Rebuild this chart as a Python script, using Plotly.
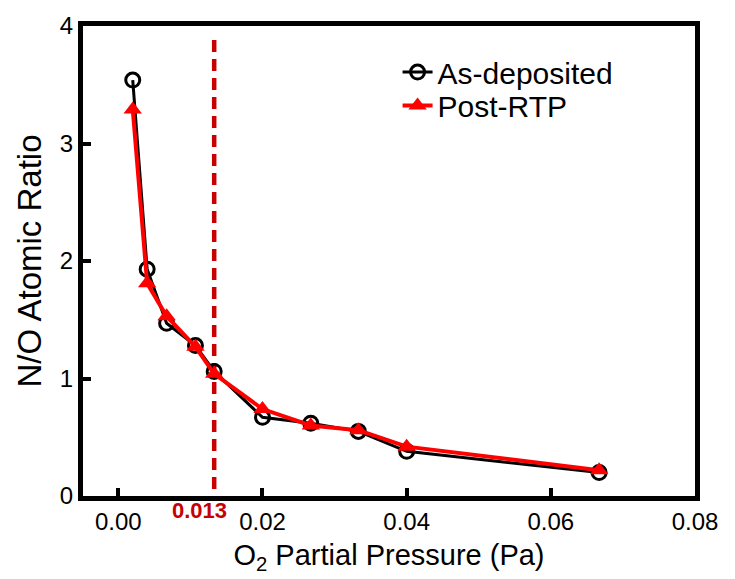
import plotly.graph_objects as go

# O2 partial pressure (Pa) and N/O atomic ratio from XPS
pressure = [0.002, 0.004, 0.0067, 0.0107, 0.0133, 0.02, 0.0267, 0.0333, 0.04, 0.0667]
as_deposited = [3.54, 1.93, 1.47, 1.28, 1.06, 0.67, 0.62, 0.55, 0.38, 0.20]
post_rtp = [3.29, 1.81, 1.53, 1.27, 1.04, 0.74, 0.60, 0.56, 0.42, 0.22]

x_ticks = [0.0, 0.02, 0.04, 0.06, 0.08]
x_tick_text = ["0.00", "0.02", "0.04", "0.06", "0.08"]
y_ticks = [0, 1, 2, 3, 4]

threshold = 0.0133
threshold_label = "0.013"
threshold_top = 3.88

FONT = "Liberation Sans, Arial, Helvetica, sans-serif"
DARK_RED = "#C80000"

fig = go.Figure()

fig.add_trace(go.Scatter(
    x=pressure, y=as_deposited, name="As-deposited",
    mode="lines+markers", legend="legend",
    line=dict(color="black", width=3),
    marker=dict(symbol="circle-open", size=14, color="black",
                line=dict(color="black", width=3)),
))
fig.add_trace(go.Scatter(
    x=pressure, y=post_rtp, name="Post-RTP",
    mode="lines+markers", legend="legend2",
    line=dict(color="#FF0000", width=4),
    marker=dict(symbol="triangle-up", size=16, color="#FF0000",
                line=dict(width=0)),
))

# vertical marker at the threshold pressure
fig.add_shape(type="line", xref="x", yref="y",
              x0=threshold, x1=threshold, y0=threshold_top, y1=0,
              line=dict(color=DARK_RED, width=4.5, dash="12px,7px"),
              layer="below")
fig.add_annotation(x=threshold - 0.0021, y=-0.031, xref="x", yref="paper",
                   text=f"<b>{threshold_label}</b>", showarrow=False,
                   font=dict(family=FONT, size=22, color=DARK_RED),
                   xanchor="center", yanchor="middle")

axis_common = dict(
    showgrid=False, zeroline=False,
    showline=True, linecolor="black", linewidth=5, mirror=True,
    ticks="inside", ticklen=8, tickwidth=4, tickcolor="black",
    tickfont=dict(family=FONT, size=24, color="black"),
)

fig.update_xaxes(
    range=[-0.0049, 0.08], tickvals=x_ticks, ticktext=x_tick_text,
    title=dict(text="O<sub>2</sub> Partial Pressure (Pa)",
               font=dict(family=FONT, size=29, color="black"), standoff=12),
    **axis_common,
)
fig.update_yaxes(
    range=[0, 4], tickvals=y_ticks,
    title=dict(text="N/O Atomic Ratio",
               font=dict(family=FONT, size=33, color="black"), standoff=10),
    **axis_common,
)

legend_common = dict(xanchor="left", yanchor="middle",
                     bgcolor="rgba(0,0,0,0)",
                     font=dict(family=FONT, size=30, color="black"))

fig.update_layout(
    width=735, height=579,
    margin=dict(l=83, r=39.5, t=15.5, b=82),
    paper_bgcolor="white", plot_bgcolor="white",
    showlegend=True,
    legend=dict(x=0.514, y=0.902, **legend_common),
    legend2=dict(x=0.514, y=0.831, **legend_common),
)

fig.write_html("out.html")
